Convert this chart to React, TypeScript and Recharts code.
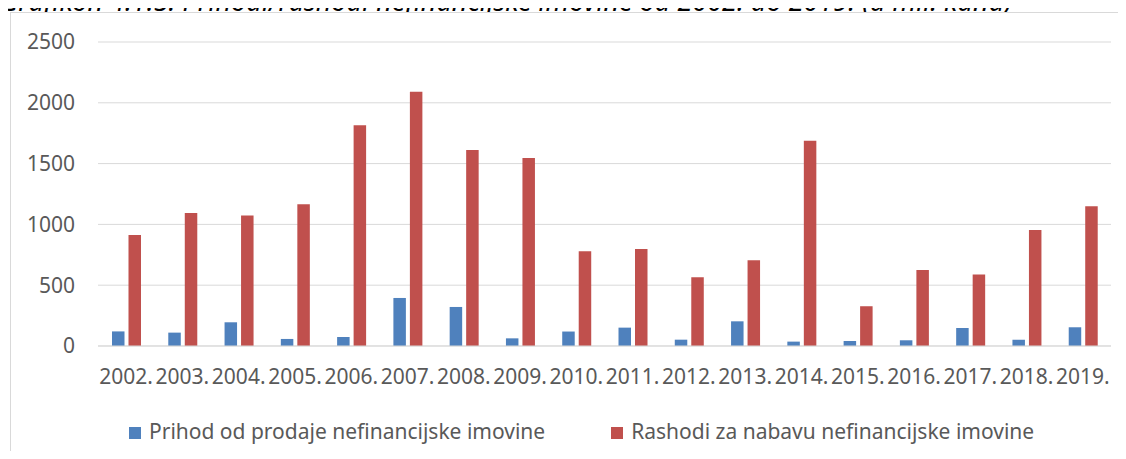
import { BarChart, Bar, XAxis, YAxis, CartesianGrid, Legend } from 'recharts';

const years = ['2002.', '2003.', '2004.', '2005.', '2006.', '2007.', '2008.', '2009.', '2010.', '2011.', '2012.', '2013.', '2014.', '2015.', '2016.', '2017.', '2018.', '2019.'];
const prihod = [120, 110, 195, 58, 74, 395, 321, 63, 119, 151, 52, 203, 36, 41, 47, 148, 52, 154];
const rashodi = [912, 1093, 1074, 1165, 1816, 2090, 1612, 1547, 780, 797, 566, 706, 1687, 327, 624, 588, 953, 1149];
const yTicks = [0, 500, 1000, 1500, 2000, 2500];

const data = years.map((year, i) => ({ year, prihod: prihod[i], rashodi: rashodi[i] }));

const font = '"Noto Sans", sans-serif';
const textColor = '#595959';
const gridColor = '#D9D9D9';

const renderLegend = (props: any) => {
    const items = props.payload || [];
    return (
        <div style={{ display: 'flex', alignItems: 'center', fontFamily: font, fontSize: 21, lineHeight: '21px', color: textColor }}>
            {items.map((item: any, i: number) => (
                <div key={item.value} style={{ display: 'flex', alignItems: 'center', marginLeft: i === 0 ? 0 : 66 }}>
                    <span style={{ width: 12, height: 12, background: item.color, marginRight: 8, marginTop: 3 }} />
                    <span>{item.value}</span>
                </div>
            ))}
        </div>
    );
};

const App = () => {
    return (
        <div style={{ position: 'relative', width: 1126, height: 459, margin: -8, overflow: 'hidden', background: '#fff', fontFamily: font }}>
            {/* title is cut off at the top, as in the source */}
            <div style={{ position: 'absolute', left: 0, top: -13, fontSize: 27, lineHeight: '27px', fontStyle: 'italic', color: '#000', whiteSpace: 'nowrap' }}>
                Grafikon 4.1.5: Prihodi/rashodi nefinancijske imovine od 2002. do 2019. (u mil. kuna)
            </div>
            <div style={{ position: 'absolute', left: 10, top: 12, width: 1200, height: 500, border: `1px solid ${gridColor}`, background: '#fff' }} />
            <div style={{ position: 'absolute', left: 0, top: 0 }}>
                <BarChart width={1126} height={459} data={data} margin={{ top: 42, right: 15, left: 0, bottom: 0 }} barGap={4}>
                    <CartesianGrid vertical={false} stroke={gridColor} />
                    <XAxis
                        dataKey="year"
                        interval={0}
                        height={73}
                        tickLine={false}
                        tickMargin={17}
                        axisLine={{ stroke: gridColor }}
                        tick={{ fill: textColor, fontSize: 21, fontFamily: font }}
                    />
                    <YAxis
                        width={98}
                        domain={[0, 2500]}
                        ticks={yTicks}
                        axisLine={false}
                        tickLine={false}
                        tickMargin={17}
                        tick={{ fill: textColor, fontSize: 21, fontFamily: font }}
                    />
                    <Legend
                        verticalAlign="bottom"
                        height={40}
                        content={renderLegend}
                        wrapperStyle={{ left: 129, top: 421, width: 1000 }}
                    />
                    <Bar dataKey="prihod" name="Prihod od prodaje nefinancijske imovine" fill="#4F81BD" barSize={12.5} isAnimationActive={false} />
                    <Bar dataKey="rashodi" name="Rashodi za nabavu nefinancijske imovine" fill="#C0504D" barSize={12.5} isAnimationActive={false} />
                </BarChart>
            </div>
        </div>
    );
};

export default App;
